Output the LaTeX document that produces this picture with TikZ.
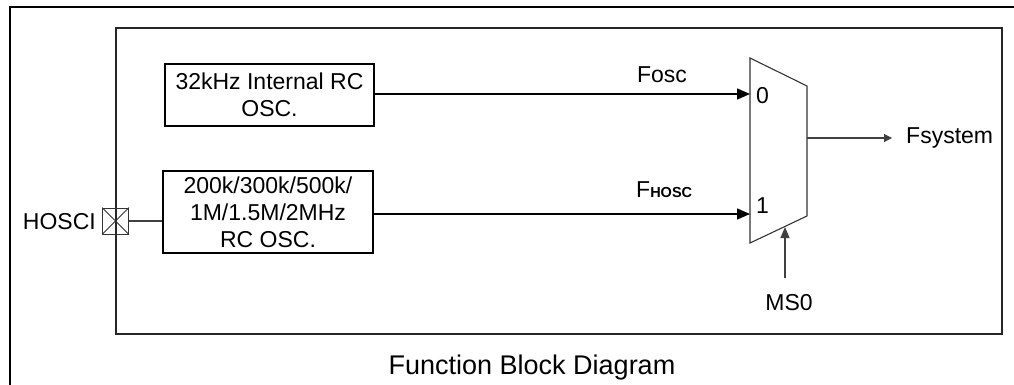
\documentclass[tikz,border=0pt]{standalone}
\usepackage{fontspec}
\setmainfont{Liberation Sans}
\usetikzlibrary{arrows.meta}
\begin{document}
\begin{tikzpicture}[x=1pt,y=-1pt,
  txt/.style={inner sep=0pt,font=\fontsize{23}{27.5}\selectfont,align=center},
  blk/.style={draw=black,line width=1.2pt,inner sep=0pt,font=\fontsize{23}{27}\selectfont,align=center},
  bigarrow/.style={line width=1.4pt,-{Triangle[length=13pt,width=11pt]}},
  thinarrow/.style={draw=black!75,line width=1.1pt},
]
\useasboundingbox (0,0) rectangle (1014,385);
% outer frame (cropped)
\draw[line width=2pt] (10,385) -- (10,7) -- (1014,7);
% inner frame
\draw[line width=1.8pt,black!85] (116,28) rectangle (1002,334);
% blocks
\node[blk,minimum width=209pt,minimum height=62pt] (rc32) at (269.5,95) {32kHz Internal RC\\OSC.};
\node[blk,minimum width=210pt,minimum height=82pt] (rchi) at (268,212) {200k/300k/500k/\\1M/1.5M/2MHz\\RC OSC.};
% multiplexer
\draw[black!80,line width=1.1pt] (750,58) -- (807,86) -- (807,216) -- (750,243) -- cycle;
\coordinate (mux0) at (750,94);
\coordinate (mux1) at (750,214);
\coordinate (muxout) at (807,138);
\coordinate (muxsel) at (785,227);
\coordinate (fsysend) at (892,138);
\coordinate (msstart) at (785,278);
% pad
\node[draw=black!80,line width=0.8pt,minimum size=26pt,inner sep=0pt] (pad) at (115.5,221) {};
\draw[black!80,line width=0.8pt] (pad.north west) -- (pad.south east) (pad.north east) -- (pad.south west);
\draw[black!75,line width=1.1pt] (pad.east) -- (rchi.west |- pad.east);
% connectors
\draw[bigarrow] (rc32.east |- mux0) -- (mux0);
\draw[bigarrow] (rchi.east |- mux1) -- (mux1);
\draw[thinarrow,-{Triangle[length=8pt,width=8pt]}] (muxout) -- (fsysend);
\draw[thinarrow,-{Triangle[length=11pt,width=9pt]}] (msstart) -- (muxsel);
% labels
\node[txt] (fosc) at (662,75) {Fosc};
\node[txt,anchor=base west] (fhosc) at (636,197) {F{\fontsize{14.5}{14.5}\selectfont\bfseries HOSC}};
\node[txt,anchor=west] (in0) at (756,96) {0};
\node[txt,anchor=west] (in1) at (756,206) {1};
\node[txt,anchor=west] (fsys) at (906,138) {Fsystem};
\node[txt,anchor=east] (hosci) at (96,222) {HOSCI};
\node[txt] (ms0) at (789,303) {MS0};
\node[txt,font=\fontsize{27}{30}\selectfont] (cap) at (532,368) {Function Block Diagram};
\end{tikzpicture}
\end{document}
